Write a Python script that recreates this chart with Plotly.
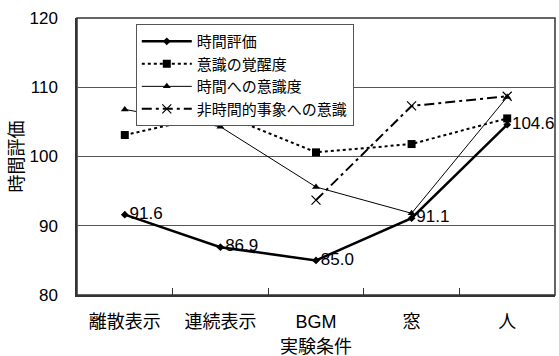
import plotly.graph_objects as go

categories = ["離散表示", "連続表示", "BGM", "窓", "人"]
time_eval = [91.6, 86.9, 85.0, 91.1, 104.6]
arousal = [103.1, 106.2, 100.6, 101.8, 105.5]
time_aware = [106.8, 104.3, 95.6, 91.8, 108.6]
nontime_aware = [None, None, 93.7, 107.3, 108.7]
y_ticks = [80, 90, 100, 110, 120]

FONT = "Liberation Sans, Arial, Noto Sans CJK JP, sans-serif"
xs = list(range(len(categories)))

fig = go.Figure()
fig.add_trace(go.Scatter(
    x=xs, y=time_eval, name="時間評価", mode="lines+markers+text",
    line=dict(color="black", width=2.5),
    marker=dict(symbol="diamond", size=6, color="black"),
    text=[f"{v:.1f}" for v in time_eval], textposition="middle right",
    textfont=dict(size=17, color="black", family=FONT), cliponaxis=False,
))
fig.add_trace(go.Scatter(
    x=xs, y=arousal, name="意識の覚醒度", mode="lines+markers",
    line=dict(color="black", width=2, dash="dot"),
    marker=dict(symbol="square", size=8, color="black"),
))
fig.add_trace(go.Scatter(
    x=xs, y=time_aware, name="時間への意識度", mode="lines+markers",
    line=dict(color="black", width=1),
    marker=dict(symbol="triangle-up", size=7, color="black"),
))
fig.add_trace(go.Scatter(
    x=xs, y=nontime_aware, name="非時間的事象への意識", mode="lines+markers",
    line=dict(color="black", width=2, dash="10px,4px,3px,4px"),
    marker=dict(symbol="x-thin-open", size=9, color="black", line=dict(width=1.2, color="black")),
    connectgaps=False,
))

fig.update_layout(
    width=559, height=356, autosize=False,
    margin=dict(l=77, r=4, t=18, b=61),
    paper_bgcolor="white", plot_bgcolor="white",
    font=dict(family=FONT, size=17, color="black"),
    showlegend=True,
    legend=dict(
        x=0.123, y=0.978, xanchor="left", yanchor="top",
        bgcolor="white", bordercolor="#555555", borderwidth=1,
        font=dict(size=15, family=FONT), itemwidth=50,
        tracegroupgap=0, itemsizing="trace",
    ),
    xaxis=dict(
        range=[-0.5, 4.5], tickmode="array", tickvals=xs, ticktext=categories,
        ticks="", showgrid=False, zeroline=False, automargin=False,
        showline=True, linecolor="#333333", linewidth=1.5, mirror=False,
        tickfont=dict(size=18, family=FONT), ticklabelstandoff=10,
        minor=dict(tickmode="array", tickvals=[0.5, 1.5, 2.5, 3.5], ticks="inside", ticklen=7, tickcolor="#333333", showgrid=False),
    ),
    yaxis=dict(
        range=[80, 120], tickmode="array", tickvals=y_ticks,
        ticks="", showgrid=True, gridcolor="#555555", gridwidth=1,
        zeroline=False, showline=True, linecolor="#333333", linewidth=1.5,
        automargin=False, tickfont=dict(size=17, family=FONT), ticklabelstandoff=14,
    ),
    annotations=[
        dict(text="実験条件", xref="paper", yref="paper", x=0.5, y=0, yshift=-52,
             showarrow=False, font=dict(size=18, family=FONT), xanchor="center", yanchor="middle"),
        dict(text="時間評価", xref="paper", yref="paper", x=0, xshift=-61, y=0.5,
             showarrow=False, font=dict(size=18, family=FONT), textangle=-90,
             xanchor="center", yanchor="middle"),
    ],
)
fig.add_shape(type="rect", xref="paper", yref="paper", x0=0, y0=0, x1=1, y1=1,
              line=dict(color="#333333", width=1.5), layer="below")

fig.write_html(
    "out.html",
    config={"responsive": False, "displayModeBar": False},
    post_script="document.body.style.margin='0';document.body.style.padding='0';document.body.style.overflow='hidden';",
)
